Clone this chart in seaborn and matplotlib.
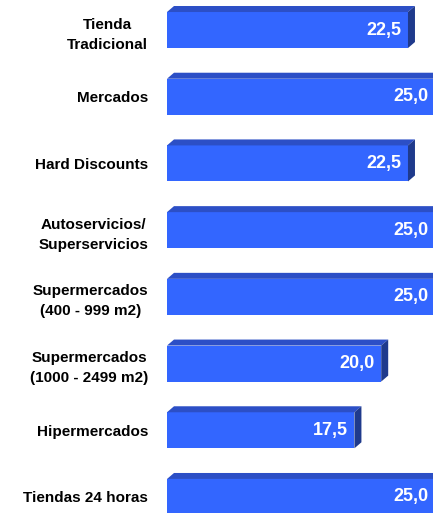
import matplotlib
matplotlib.use("Agg")
import matplotlib.pyplot as plt
from matplotlib.patches import Polygon
import seaborn as sns
import pandas as pd

formatos = ["Tienda\nTradicional", "Mercados", "Hard Discounts",
            "Autoservicios/\nSuperservicios", "Supermercados\n(400 - 999 m2)",
            "Supermercados\n(1000 - 2499 m2)", "Hipermercados", "Tiendas 24 horas"]
valores = [22.5, 25.0, 22.5, 25.0, 25.0, 20.0, 17.5, 25.0]
etiquetas = ["22,5", "25,0", "22,5", "25,0", "25,0", "20,0", "17,5", "25,0"]

FRENTE = "#3366FF"
TECHO = "#2C4FC6"
LADO = "#1F3A8C"

sns.set_style("white")
plt.rcParams["font.family"] = ["Liberation Sans", "DejaVu Sans"]
plt.rcParams["text.color"] = "black"
plt.rcParams["ytick.color"] = "black"

df = pd.DataFrame({"formato": formatos, "valor": valores})

fig = plt.figure(figsize=(4.33, 5.13), dpi=100)
ax = fig.add_axes([167 / 433, 0, 266 / 433, 1])
sns.barplot(data=df, x="valor", y="formato", color=FRENTE, saturation=1,
            width=0.54, orient="h", ax=ax, linewidth=0)

ax.set_xlim(0, 266 / 10.71)
ax.set_ylim(7.24, -0.45)
sns.despine(ax=ax, left=True, bottom=True)
ax.set_xlabel("")
ax.set_ylabel("")
ax.set_xticks([])
ax.tick_params(axis="y", length=0, pad=13.5, labelcolor="black")
for lbl in ax.get_yticklabels():
    lbl.set_fontsize(11)
    lbl.set_fontweight("bold")
    lbl.set_multialignment("center")
    lbl.set_linespacing(1.55)

# efecto 3D: profundidad en pixeles convertida a datos
inv = ax.transData.inverted()
p0 = inv.transform(ax.transData.transform((0, 0)))
p1 = inv.transform(ax.transData.transform((0, 0)) + [7, 6])
dx, dy = p1[0] - p0[0], p1[1] - p0[1]

for bar, txt in zip(ax.patches, etiquetas):
    x0 = bar.get_x()
    x1 = x0 + bar.get_width()
    yt = bar.get_y()
    yb = yt + bar.get_height()
    ax.add_patch(Polygon([(x0, yt), (x1, yt), (x1 + dx, yt + dy), (x0 + dx, yt + dy)],
                         closed=True, facecolor=TECHO, edgecolor="none"))
    ax.add_patch(Polygon([(x1, yt), (x1 + dx, yt + dy), (x1 + dx, yb + dy), (x1, yb)],
                         closed=True, facecolor=LADO, edgecolor="none"))
    ax.annotate(txt, xy=(x1, (yt + yb) / 2), xytext=(-4.5, 0), textcoords="offset points",
                ha="right", va="center", color="white", fontsize=13,
                fontweight="bold", annotation_clip=False)

fig.savefig("out.png", dpi=100)
